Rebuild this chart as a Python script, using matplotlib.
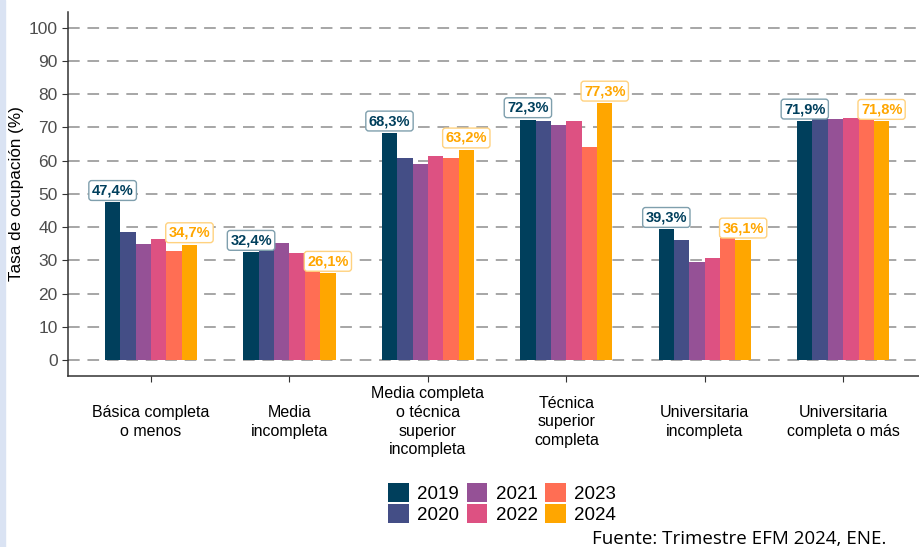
import matplotlib.pyplot as plt
import numpy as np
from matplotlib.patches import Rectangle

categories = [
    "Básica completa\no menos",
    "Media\nincompleta",
    "Media completa\no técnica\nsuperior\nincompleta",
    "Técnica\nsuperior\ncompleta",
    "Universitaria\nincompleta",
    "Universitaria\ncompleta o más",
]
years = ["2019", "2020", "2021", "2022", "2023", "2024"]
rates = {
    "2019": [47.4, 32.4, 68.3, 72.3, 39.3, 71.9],
    "2020": [38.5, 33.8, 60.8, 71.8, 36.0, 73.1],
    "2021": [34.9, 35.2, 58.9, 70.8, 29.6, 72.5],
    "2022": [36.4, 32.3, 61.3, 71.9, 30.6, 72.9],
    "2023": [32.9, 27.1, 60.9, 64.1, 37.4, 73.0],
    "2024": [34.7, 26.1, 63.2, 77.3, 36.1, 71.8],
}
colors = ["#003f5c", "#444e86", "#955196", "#dd5182", "#ff6e54", "#ffa600"]

plt.rcParams["font.family"] = ["Liberation Sans", "DejaVu Sans"]

fig = plt.figure(figsize=(9.2, 5.47), dpi=100)
fig.patches.append(Rectangle((0, 0), 0.005, 1, transform=fig.transFigure,
                             color="#dae3f3", zorder=0))
ax = fig.add_axes([0.0739, 0.3126, 0.9261, 0.6654])

x = np.arange(len(categories))
width = 0.111
for i, year in enumerate(years):
    offset = (i - 2.5) * width
    ax.bar(x + offset, rates[year], width, color=colors[i], label=year, zorder=3)

# labels for first and last year
for year, color, edge in [("2019", "#003f5c", "#7f9fad"), ("2024", "#ffa600", "#ffd27f")]:
    i = years.index(year)
    offset = (i - 2.5) * width
    for xi, v in zip(x, rates[year]):
        ax.text(xi + offset, v + 1.5, f"{v:.1f}%".replace(".", ","),
                ha="center", va="bottom", fontsize=10.5, fontweight="bold",
                color=color, zorder=5,
                bbox=dict(boxstyle="round,pad=0.2", fc="white", ec=edge, lw=1))

ax.set_xlim(-0.6, 5.555)
ax.set_ylim(-4.8, 104.7)
ax.set_yticks(range(0, 101, 10))
ax.set_xticks(x)
ax.set_xticklabels(categories, fontsize=11.5, linespacing=1.3, va="center")
ax.tick_params(axis="y", labelsize=12.5, labelcolor="#4d4d4d", color="#333333",
               length=4)
ax.tick_params(axis="x", color="#333333", length=4, pad=29)
ax.set_ylabel("Tasa de ocupación (%)", fontsize=12.3, labelpad=3)

ax.grid(axis="y", color="#a6a6a6", linestyle=(0, (6, 4)), linewidth=1.4, zorder=0)
for side in ["top", "right"]:
    ax.spines[side].set_visible(False)
for side in ["left", "bottom"]:
    ax.spines[side].set_color("#333333")
    ax.spines[side].set_linewidth(1.1)

fig.legend(loc="center", bbox_to_anchor=(0.546, 0.0795), ncol=3, frameon=False,
           fontsize=13.5, handlelength=1.1, handleheight=1.15, handletextpad=0.45,
           columnspacing=0.4, labelspacing=0.1, borderpad=0)

fig.text(0.963, 0.014, "Fuente: Trimestre EFM 2024, ENE.", ha="right", va="center",
         fontsize=13.5, family=["Open Sans", "DejaVu Sans"])

fig.savefig("out.png", dpi=100)
